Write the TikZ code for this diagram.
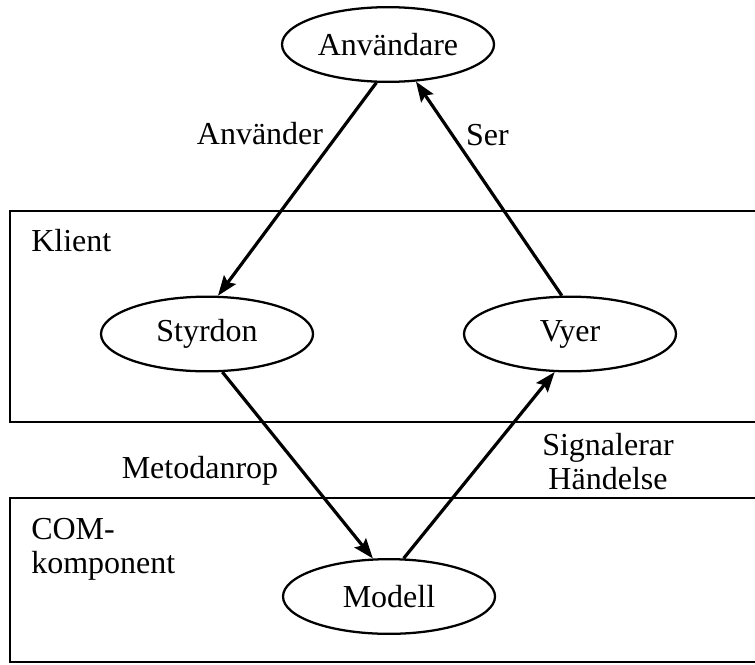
\documentclass[tikz,border=0pt]{standalone}
\usepackage{fontspec}
\setmainfont{Liberation Serif}
\usetikzlibrary{shapes.geometric,arrows.meta}

\begin{document}
\begin{tikzpicture}[x=0.75pt,y=-0.75pt,
  font=\fontsize{24}{25.5}\selectfont,
  actor/.style={ellipse,draw,line width=1.7pt,minimum width=159pt,minimum height=56pt,inner sep=0pt},
  layer/.style={draw,line width=2pt},
  label/.style={inner sep=0pt,anchor=base},
  flow/.style={line width=2.4pt,-{Stealth[length=15pt,width=11pt,inset=2.5pt]}}]
  \useasboundingbox (0,0) rectangle (755,664);
  \clip (0,0) rectangle (755,664);

  % layers
  \draw[layer] (10,211) rectangle (770,422);
  \draw[layer] (10,498) rectangle (770,662);
  \node[label,anchor=base west] (klient) at (31,251) {Klient};
  % multi-line nodes: the base anchor sits on the last line
  \node[label,anchor=base west,align=left] (com) at (31,573) {COM-\\komponent};

  % actors
  \node[actor] (anv) at (388,44.5) {Användare};
  \node[actor] (sty) at (207,334) {Styrdon};
  \node[actor] (vy)  at (570,334) {Vyer};
  \node[actor] (mod) at (389,596.5) {Modell};

  % connectors
  \draw[flow] (anv.253) -- (sty.74);
  \draw[flow] (vy.102) -- (anv.307);
  \draw[flow] (sty.292) -- (mod.113);
  \draw[flow] (mod.69) -- (vy.248);

  % connector labels
  \node[label] (lanv) at (260,144) {Använder};
  \node[label] (lser) at (487.5,145) {Ser};
  \node[label] (lmet) at (200,478) {Metodanrop};
  \node[label,align=center] (lsig) at (608,489) {Signalerar\\Händelse};
\end{tikzpicture}
\end{document}
